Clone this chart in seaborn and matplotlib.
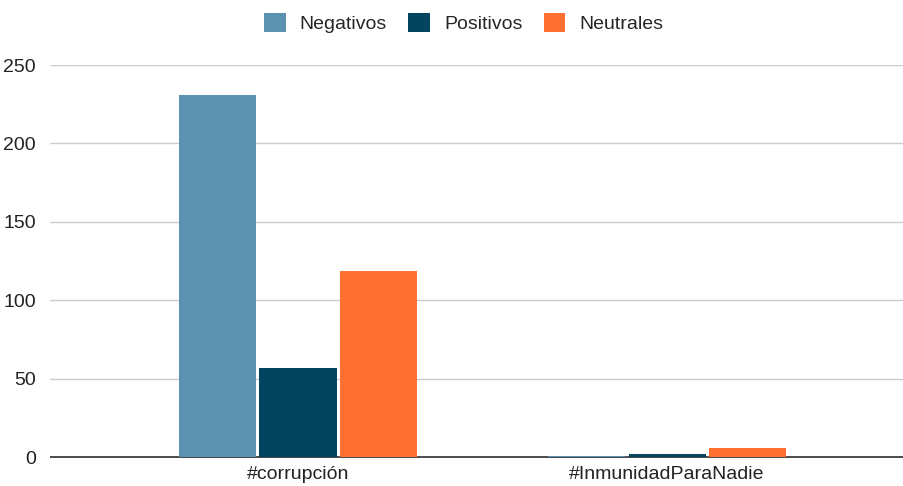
import matplotlib
matplotlib.use("Agg")
import matplotlib.pyplot as plt
import seaborn as sns
import pandas as pd

categories = ["#corrupción", "#InmunidadParaNadie"]
series = ["Negativos", "Positivos", "Neutrales"]
negativos = [231, 1]
positivos = [57, 2]
neutrales = [119, 6]
yticks = [0, 50, 100, 150, 200, 250]
colors = ["#5a92af", "#03445f", "#ff6f31"]

rows = []
for s, vals in zip(series, [negativos, positivos, neutrales]):
    for c, v in zip(categories, vals):
        rows.append({"cat": c, "serie": s, "valor": v})
df = pd.DataFrame(rows)

sns.set_style("white")
plt.rcParams["font.family"] = ["Liberation Sans", "DejaVu Sans"]

fig = plt.figure(figsize=(9.04, 4.86), dpi=100)
ax = fig.add_axes([50/904, 28/486, 854/904, 393/486])
sns.barplot(data=df, x="cat", y="valor", hue="serie", order=categories,
            hue_order=series, palette=colors, width=0.655, gap=0.043,
            saturation=1, linewidth=0, ax=ax, legend=True)
for p in ax.patches:
    p.set_zorder(6)

ax.set_xlim(-0.672, 1.642)
ax.set_ylim(-0.4, 250)
ax.set_yticks(yticks)
ax.set_yticklabels([str(t) for t in yticks])
ax.yaxis.grid(True, color="#cccccc", linewidth=1)
ax.set_axisbelow(True)
for sp in ["left", "right", "top", "bottom"]:
    ax.spines[sp].set_visible(False)
ax.axhline(0, color="#333333", linewidth=1.2, zorder=5)
ax.set_xlabel("")
ax.set_ylabel("")
ax.tick_params(axis="both", length=0, labelsize=14, colors="#222222")
ax.tick_params(axis="y", pad=10)
ax.tick_params(axis="x", pad=6)

handles, labels = ax.get_legend_handles_labels()
for h in handles:
    h.set_linewidth(0)
ax.legend_.remove()
fig.legend(handles, labels, loc="center", bbox_to_anchor=(0.513, 0.953),
           ncol=3, frameon=False, fontsize=14, handlelength=1.1,
           handleheight=1.1, handletextpad=0.72, columnspacing=1.1)

fig.savefig("out.png", dpi=100)
